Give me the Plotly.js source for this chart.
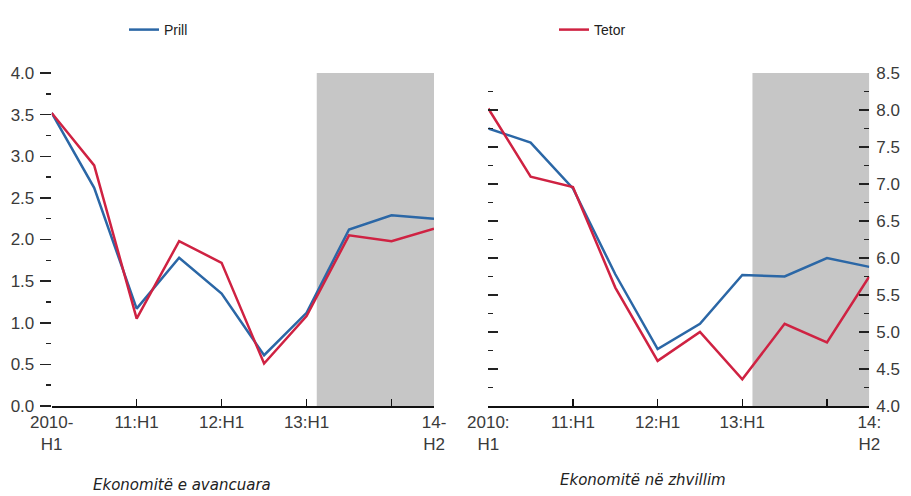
<!DOCTYPE html>
<html>
<head>
<meta charset="utf-8">
<script src="https://cdn.plot.ly/plotly-3.0.1.min.js"></script>
<style>html,body{margin:0;padding:0;background:#fff;}#chart{width:911px;height:496px;}</style>
</head>
<body>
<div id="chart"></div>
<script>
// Half-year periods, 2010:H1 .. 2014:H2
const periods = ['2010:H1','2010:H2','2011:H1','2011:H2','2012:H1','2012:H2','2013:H1','2013:H2','2014:H1','2014:H2'];
const seriesNames = ['Prill', 'Tetor'];
// Advanced economies (left panel)
const advApril   = [3.52, 2.62, 1.17, 1.78, 1.35, 0.61, 1.12, 2.12, 2.29, 2.25];
const advOctober = [3.52, 2.89, 1.05, 1.98, 1.72, 0.51, 1.08, 2.05, 1.98, 2.13];
// Developing economies (right panel)
const emgApril   = [7.75, 7.56, 6.94, 5.78, 4.77, 5.11, 5.77, 5.75, 6.00, 5.88];
const emgOctober = [8.02, 7.10, 6.96, 5.60, 4.61, 5.00, 4.36, 5.11, 4.86, 5.75];
// Forecast shading starts just after 2013:H1 (index position)
const forecastStart = 6.24;
const panelTitles = ['Ekonomitë e avancuara', 'Ekonomitë në zhvillim'];
const tickPositions = [0, 2, 4, 6, 8, 9];
const leftTickText  = ['2010-<br>H1', '11:H1', '12:H1', '13:H1', '', '14-<br>H2'];
const rightTickText = ['2010:<br>H1', '11:H1', '12:H1', '13:H1', '', '14:<br>H2'];

const xIdx = periods.map((_, i) => i);
const blue = '#2b67a6';
const red = '#cf2242';

const traces = [
  {x: xIdx, y: advApril, xaxis: 'x', yaxis: 'y', mode: 'lines', name: seriesNames[0], line: {color: blue, width: 2.5}, legend: 'legend'},
  {x: xIdx, y: advOctober, xaxis: 'x', yaxis: 'y', mode: 'lines', name: seriesNames[1], line: {color: red, width: 2.5}, legend: 'legend2'},
  {x: xIdx, y: emgApril, xaxis: 'x2', yaxis: 'y2', mode: 'lines', name: seriesNames[0], line: {color: blue, width: 2.5}, showlegend: false},
  {x: xIdx, y: emgOctober, xaxis: 'x2', yaxis: 'y2', mode: 'lines', name: seriesNames[1], line: {color: red, width: 2.5}, showlegend: false}
];

const W = 911, H = 496;
const yDom = [1 - 406 / H, 1 - 73 / H];
const tickFont = {family: 'Liberation Sans, Arial, sans-serif', size: 17, color: '#3a3a3a'};
const legendFont = {family: 'Liberation Sans, Arial, sans-serif', size: 14, color: '#222'};

const xCommon = {
  range: [0, 9], showgrid: false, zeroline: false,
  showline: true, linecolor: '#111', linewidth: 1.5,
  tickmode: 'array', tickvals: tickPositions,
  ticks: 'inside', ticklen: 7, tickwidth: 1.3, tickcolor: '#111',
  tickfont: tickFont, fixedrange: true
};

const layout = {
  width: W, height: H,
  margin: {l: 0, r: 0, t: 0, b: 0},
  paper_bgcolor: '#fff', plot_bgcolor: 'rgba(0,0,0,0)',
  showlegend: true,
  legend: {x: 124 / W, y: 1 - 14 / H, xanchor: 'left', yanchor: 'top', font: legendFont, bgcolor: 'rgba(0,0,0,0)'},
  legend2: {x: 554 / W, y: 1 - 14 / H, xanchor: 'left', yanchor: 'top', font: legendFont, bgcolor: 'rgba(0,0,0,0)'},
  xaxis: Object.assign({}, xCommon, {domain: [51.7 / W, 434 / W], anchor: 'y', ticktext: leftTickText}),
  yaxis: {
    domain: yDom, anchor: 'x', range: [0, 4], tick0: 0, dtick: 0.5, tickformat: '.1f',
    showgrid: false, zeroline: false, showline: false,
    ticks: 'outside', ticklen: 11, tickwidth: 1.5, tickcolor: '#222',
    minor: {ticks: 'outside', ticklen: 5, tick0: 0, dtick: 0.25, tickwidth: 1.5, tickcolor: '#222'},
    tickfont: tickFont, ticklabelstandoff: 2, fixedrange: true
  },
  yaxis3: {
    overlaying: 'y', anchor: 'x', side: 'right', range: [0, 4], tick0: 0, dtick: 0.5,
    showgrid: false, zeroline: false, showline: false, showticklabels: false,
    ticks: 'inside', ticklen: 7, tickwidth: 1.5, tickcolor: '#222',
    minor: {ticks: 'inside', ticklen: 4, tick0: 0, dtick: 0.25, tickwidth: 1.5, tickcolor: '#222'},
    fixedrange: true
  },
  xaxis2: Object.assign({}, xCommon, {domain: [488.3 / W, 869.3 / W], anchor: 'y2', ticktext: rightTickText}),
  yaxis2: {
    domain: yDom, anchor: 'x2', side: 'right', range: [4, 8.5], tick0: 4, dtick: 0.5, tickformat: '.1f',
    showgrid: false, zeroline: false, showline: false, mirror: 'ticks',
    ticks: 'inside', ticklen: 10, tickwidth: 1.5, tickcolor: '#222',
    minor: {ticks: 'inside', ticklen: 5, tick0: 4, dtick: 0.25, tickwidth: 1.5, tickcolor: '#222'},
    tickfont: tickFont, ticklabelstandoff: 6, fixedrange: true
  },
  shapes: [
    {type: 'rect', xref: 'x', yref: 'y', x0: forecastStart, x1: 9, y0: 0, y1: 4, fillcolor: '#c6c6c6', line: {width: 0}, layer: 'below'},
    {type: 'rect', xref: 'x2', yref: 'y2', x0: forecastStart, x1: 9, y0: 4, y1: 8.5, fillcolor: '#c6c6c6', line: {width: 0}, layer: 'below'}
  ],
  annotations: [
    {text: panelTitles[0], xref: 'paper', yref: 'paper', x: 182 / W, y: 1 - 485 / H, xanchor: 'center', yanchor: 'middle', showarrow: false,
     font: {family: 'DejaVu Sans, sans-serif', size: 15, color: '#222', style: 'italic'}},
    {text: panelTitles[1], xref: 'paper', yref: 'paper', x: 643 / W, y: 1 - 480 / H, xanchor: 'center', yanchor: 'middle', showarrow: false,
     font: {family: 'DejaVu Sans, sans-serif', size: 15, color: '#222', style: 'italic'}}
  ]
};

Plotly.newPlot('chart', traces, layout, {displayModeBar: false, staticPlot: true});
</script>
</body>
</html>
